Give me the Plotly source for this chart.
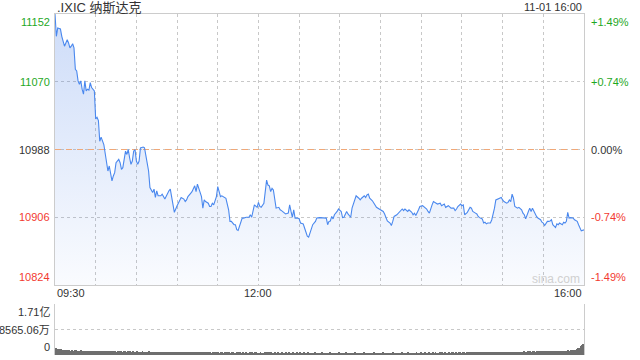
import plotly.graph_objects as go
import pandas as pd

# ---------------- data ----------------
title_text = ".IXIC 纳斯达克"
date_label = "11-01 16:00"
prev_close = 10988
y_ticks = [10824, 10906, 10988, 11070, 11152]
y_tick_labels = ["10824", "10906", "10988", "11070", "11152"]
pct_labels = ["-1.49%", "-0.74%", "0.00%", "+0.74%", "+1.49%"]
time_tick_minutes = [0, 150, 390]
time_labels = ["09:30", "12:00", "16:00"]
vol_ticks = [0, 85.6506, 171.3012]          # millions of shares
vol_labels = ["0", "8565.06万", "1.71亿"]
watermark = "sina.com"

price_minutes = [
    0, 1, 2, 4, 5, 7, 8, 9, 10, 11, 12, 13, 14, 15, 16, 17, 18, 19, 20, 21, 22, 23, 24, 25, 26, 27, 29,
    30, 31, 32, 33, 34, 36, 37, 38, 39, 40, 42, 43, 44, 45, 47, 48, 49, 50, 52, 53, 54, 55, 56, 57, 58, 59,
    60, 61, 62, 63, 65, 66, 67, 68, 69, 70, 71, 72, 73, 74, 75, 76, 78, 79, 81, 82, 84, 85, 86, 87, 88,
    90, 91, 93, 95, 96, 97, 98, 100, 101, 103, 104, 105, 106, 108, 109, 110, 111, 113, 114, 115, 116, 117,
    119, 120, 121, 122, 123, 124, 126, 128, 129, 130, 132, 133, 134, 135, 136, 138, 139, 141, 143, 144,
    145, 146, 147, 149, 150, 151, 152, 154, 155, 156, 157, 158, 159, 160, 161, 162, 163, 165, 166, 167,
    168, 170, 172, 173, 174, 175, 176, 177, 179, 180, 181, 183, 184, 186, 187, 188, 189, 190, 192, 193,
    195, 198, 200, 201, 202, 203, 204, 205, 206, 208, 209, 211, 212, 213, 215, 216, 218, 219, 221, 222,
    224, 225, 226, 228, 229, 230, 231, 232, 234, 235, 236, 237, 239, 240, 242, 243, 244, 245, 247, 248,
    249, 250, 252, 253, 255, 256, 257, 258, 260, 261, 263, 264, 265, 266, 268, 269, 271, 272, 274, 275,
    276, 278, 279, 281, 282, 284, 285, 287, 288, 290, 291, 292, 294, 295, 296, 297, 299, 300, 301, 302,
    304, 305, 306, 307, 308, 310, 311, 312, 313, 315, 316, 317, 318, 319, 321, 322, 323, 324, 325, 326,
    328, 329, 330, 331, 333, 334, 335, 336, 337, 338, 339, 341, 342, 344, 345, 346, 347, 348, 349, 350,
    351, 352, 353, 354, 355, 356, 358, 359, 360, 361, 363, 364, 365, 366, 367, 369, 370, 371, 372, 374,
    375, 376, 377, 378, 379, 380, 382, 383, 385, 386, 387, 388, 390,
]
price_values = [
    11152, 11125, 11135, 11134, 11125, 11113, 11117, 11121, 11117, 11111, 11113, 11116, 11111, 11085, 11083,
    11071, 11067, 11071, 11061, 11055, 11071, 11059, 11061, 11060, 11069, 11063, 11059,
    11025, 11027, 11023, 10998, 11003, 10994, 10982, 10974, 10962, 10968, 10950, 10956, 10960, 10972,
    10976, 10972, 10964, 10966, 10986, 10982, 10988, 10978, 10970, 10974, 10986, 10988,
    10974, 10970, 10974, 10990, 10991, 10990, 10982, 10974, 10962, 10942, 10938, 10936, 10940, 10930,
    10938, 10932, 10932, 10934, 10928, 10932, 10938, 10940, 10932, 10922, 10912,
    10920, 10924, 10930, 10928, 10925, 10927, 10931, 10935, 10937, 10944, 10937, 10946, 10941, 10931,
    10917, 10927, 10925, 10923, 10919, 10919, 10923, 10921,
    10931, 10943, 10937, 10931, 10932, 10931, 10929, 10915, 10901, 10901, 10897, 10897, 10891, 10890,
    10895, 10905, 10905, 10906, 10906, 10909,
    10906, 10913, 10921, 10918, 10924, 10919, 10918, 10923, 10935, 10951, 10945, 10944, 10937, 10941,
    10939, 10927, 10917, 10918, 10915, 10914,
    10913, 10910, 10911, 10921, 10913, 10906, 10915, 10905, 10905, 10904, 10899, 10898, 10893, 10883,
    10882, 10887, 10893, 10897, 10901, 10905,
    10905.5, 10905.5, 10905, 10897, 10901, 10901.5, 10907, 10904, 10909, 10913, 10916, 10913, 10905.5,
    10906, 10913, 10910, 10906, 10917, 10927, 10932,
    10929, 10927, 10929, 10932, 10930, 10933, 10934, 10929, 10926, 10923, 10920, 10918, 10916, 10915,
    10913, 10910, 10905, 10901.5, 10899, 10896,
    10901, 10907, 10909, 10911, 10914, 10916, 10914, 10916, 10913, 10915, 10912, 10909, 10911, 10908,
    10915, 10919, 10920, 10919, 10916, 10913,
    10911, 10921, 10925, 10923, 10922, 10923, 10920, 10922, 10918, 10920, 10918, 10917, 10917, 10914,
    10916, 10919, 10922, 10920, 10921, 10909,
    10912, 10915, 10918, 10917, 10913, 10911, 10910, 10907, 10905.5, 10904, 10899, 10900, 10898, 10899,
    10899, 10903, 10909, 10917, 10927, 10928,
    10929, 10930, 10927, 10925, 10923, 10924, 10927, 10925, 10934, 10929, 10919, 10917, 10918, 10915,
    10911, 10909, 10904, 10910, 10913, 10917,
    10913, 10917, 10913, 10909, 10907, 10905, 10903, 10900, 10899, 10896, 10901, 10901, 10901.5, 10903,
    10897, 10893.5, 10898, 10897, 10899, 10897,
    10900, 10899, 10901, 10912, 10905, 10905.5, 10905, 10903, 10901, 10897, 10893, 10889.5, 10890.7,
]

volume_values = [  # one bar per minute, millions of shares
    24, 21, 20, 19, 19, 17, 18, 16, 17, 16, 17, 15, 16, 15, 17, 16, 15, 14, 15, 16, 14, 15, 14, 13, 15, 14, 13, 14, 15, 13,
    14, 15, 13, 14, 12, 13, 14, 12, 13, 12, 14, 13, 12, 13, 12, 11, 13, 12, 12, 11, 12, 13, 11, 12, 11, 12, 11, 12, 10, 11,
    12, 11, 10, 11, 12, 10, 11, 10, 11, 12, 11, 10, 11, 10, 10, 11, 10, 11, 10, 9, 10, 11, 10, 9, 10, 10, 11, 9, 10, 10,
    10, 9, 10, 11, 9, 10, 9, 10, 9, 10, 10, 9, 10, 9, 9, 10, 9, 10, 9, 9, 10, 9, 9, 10, 9, 8, 9, 10, 9, 9,
    9, 8, 9, 9, 8, 9, 10, 8, 9, 8, 9, 9, 8, 8, 9, 10, 9, 8, 9, 8, 9, 8, 8, 9, 8, 9, 8, 10, 9, 8,
    8, 9, 8, 8, 9, 8, 9, 10, 8, 9, 8, 8, 9, 8, 9, 8, 8, 9, 8, 8, 9, 8, 9, 8, 8, 9, 8, 8, 9, 8,
    9, 8, 8, 9, 8, 8, 9, 8, 7, 8, 8, 9, 8, 8, 7, 8, 9, 8, 8, 7, 8, 8, 9, 8, 7, 8, 8, 7, 8, 9,
    8, 7, 8, 8, 9, 8, 7, 8, 8, 7, 8, 9, 8, 8, 7, 8, 8, 9, 8, 7, 8, 8, 7, 8, 8, 9, 8, 8, 7, 8,
    8, 9, 8, 7, 8, 8, 7, 8, 8, 9, 8, 7, 8, 8, 8, 9, 8, 7, 8, 8, 9, 8, 8, 7, 8, 8, 9, 8, 8, 9,
    8, 8, 9, 8, 8, 9, 8, 8, 9, 8, 9, 8, 8, 9, 8, 9, 8, 9, 8, 8, 9, 8, 9, 9, 8, 9, 8, 9, 9, 8,
    9, 9, 8, 9, 9, 10, 9, 8, 9, 9, 10, 9, 9, 10, 9, 9, 10, 9, 10, 9, 10, 10, 9, 10, 9, 10, 10, 9, 10, 10,
    10, 11, 10, 10, 11, 10, 11, 10, 11, 11, 10, 11, 11, 10, 11, 12, 11, 11, 12, 11, 12, 11, 12, 12, 11, 12, 12, 13, 12, 12,
    12, 13, 12, 13, 13, 12, 13, 14, 13, 13, 14, 13, 14, 14, 15, 14, 15, 15, 16, 15, 16, 17, 16, 18, 19, 22, 24, 30, 35, 38,
]

# ---------------- derived ----------------
base = pd.Timestamp("2022-11-01 09:30")
end = base + pd.Timedelta(minutes=390)
price_times = [base + pd.Timedelta(minutes=m) for m in price_minutes]
vol_times = [base + pd.Timedelta(seconds=60 * i + 30) for i in range(len(volume_values))]

GREEN = "#1fa81f"
RED = "#f23a30"
DARK = "#333333"
GRID = "#c8c8c8"
BORDER = "#cccccc"
FONT = "Liberation Sans, Arial, Noto Sans CJK SC, sans-serif"

W, H = 640, 360
L, R = 55, 584
T1, B1 = 14, 285
T2, B2 = 304, 355

def px(x):
    return x / W

def py(y):
    return 1 - y / H

fig = go.Figure()

# gradient fill (no line)
fig.add_trace(go.Scatter(
    x=price_times, y=price_values, mode="lines", line=dict(width=0, color="rgba(0,0,0,0)"),
    fill="tozeroy",
    fillgradient=dict(type="vertical",
                      colorscale=[[0, "rgba(70,125,230,0.03)"], [1, "rgba(70,125,230,0.27)"]],
                      start=y_ticks[0], stop=y_ticks[-1]),
    hoverinfo="skip", showlegend=False, xaxis="x", yaxis="y"))

# previous close dashed line
fig.add_trace(go.Scatter(
    x=[base, end], y=[prev_close, prev_close], mode="lines",
    line=dict(color="#f0a878", width=1, dash="6px,5px"),
    hoverinfo="skip", showlegend=False, xaxis="x", yaxis="y"))

# price line
fig.add_trace(go.Scatter(
    x=price_times, y=price_values, mode="lines",
    line=dict(color="#4a88ee", width=1.1),
    showlegend=False, xaxis="x", yaxis="y"))

# volume bars
fig.add_trace(go.Bar(
    x=vol_times, y=volume_values, marker=dict(color="#6e6e6e", line=dict(width=0)),
    width=42000, showlegend=False, xaxis="x2", yaxis="y2"))

common_x = dict(domain=[px(L), px(R)], type="date", range=[base, end],
                tick0=base, dtick=30 * 60 * 1000, showticklabels=False, ticks="",
                zeroline=False, fixedrange=True)

fig.update_layout(
    width=W, height=H, margin=dict(l=0, r=0, t=0, b=0),
    paper_bgcolor="white", plot_bgcolor="white",
    font=dict(family=FONT, size=11, color=DARK),
    bargap=0,
    xaxis=dict(**common_x, anchor="y", showgrid=True, gridcolor=GRID, griddash="dot", gridwidth=1,
               showline=True, linecolor=BORDER, linewidth=1, mirror=True),
    yaxis=dict(domain=[py(B1), py(T1)], range=[y_ticks[0], y_ticks[-1]], tickvals=y_ticks,
               showticklabels=False, ticks="", showgrid=True, gridcolor=GRID, griddash="dot",
               showline=True, linecolor=BORDER, linewidth=1, mirror=True, zeroline=False),
    xaxis2=dict(**common_x, anchor="y2", showgrid=False, showline=False),
    yaxis2=dict(domain=[py(B2), py(T2)], range=[vol_ticks[0], vol_ticks[-1]], tickvals=vol_ticks[1:],
                showticklabels=False, ticks="", showgrid=True, gridcolor=GRID, griddash="dot",
                showline=True, linecolor=BORDER, linewidth=1, mirror=True, zeroline=False),
)

ann = []
# title and date
ann.append(dict(text=title_text, x=px(L), y=py(7), xref="paper", yref="paper",
                xanchor="left", yanchor="middle", showarrow=False,
                font=dict(size=13, color=DARK, family=FONT)))
ann.append(dict(text=date_label, x=px(R), y=py(7), xref="paper", yref="paper",
                xanchor="right", yanchor="middle", showarrow=False,
                font=dict(size=11, color=DARK, family=FONT)))

# price ticks left / percent ticks right
for i, (v, lab, pct) in enumerate(zip(y_ticks, y_tick_labels, pct_labels)):
    if v > prev_close:
        col = GREEN
    elif v < prev_close:
        col = RED
    else:
        col = DARK
    if i == len(y_ticks) - 1:
        ya = "top"
    elif i == 0:
        ya = "bottom"
    else:
        ya = "middle"
    ann.append(dict(text=lab, x=px(L - 3), y=v, xref="paper", yref="y",
                    xanchor="right", yanchor=ya, showarrow=False,
                    font=dict(size=11, color=col, family=FONT)))
    ann.append(dict(text=pct, x=px(R + 5), y=v, xref="paper", yref="y",
                    xanchor="left", yanchor=ya, showarrow=False,
                    font=dict(size=11, color=col, family=FONT)))

# time labels
anchors = ["left", "center", "right"]
for m, lab, a in zip(time_tick_minutes, time_labels, anchors):
    ann.append(dict(text=lab, x=base + pd.Timedelta(minutes=m), y=py(293), xref="x", yref="paper",
                    xanchor=a, yanchor="middle", showarrow=False,
                    font=dict(size=11, color=DARK, family=FONT)))

# volume labels
vol_anchor = ["bottom", "middle", "top"]
for v, lab, ya in zip(vol_ticks, vol_labels, vol_anchor):
    ann.append(dict(text=lab, x=px(L - 3), y=v, xref="paper", yref="y2",
                    xanchor="right", yanchor=ya, showarrow=False,
                    font=dict(size=11, color=DARK, family=FONT)))

# watermark
ann.append(dict(text=watermark, x=px(556), y=py(279), xref="paper", yref="paper",
                xanchor="center", yanchor="middle", showarrow=False,
                font=dict(size=12, color="#d0d0d0", family=FONT)))

fig.update_layout(annotations=ann)

fig.write_html("out.html", config=dict(displayModeBar=False),
               post_script="document.body.style.margin='0';document.body.style.overflow='hidden';")
